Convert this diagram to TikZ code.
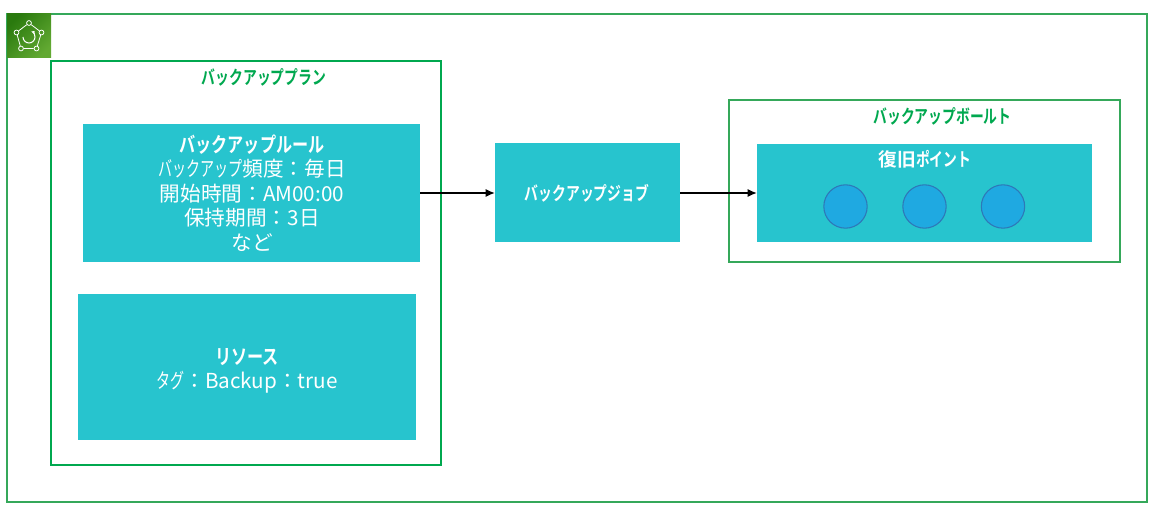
\documentclass[tikz,border=0pt]{standalone}
\usepackage{fontspec}
\usetikzlibrary{arrows.meta}
\setmainfont{Noto Sans CJK JP}[BoldFont={Noto Sans CJK JP Bold}]
\newfontfamily\headfont[FakeStretch=0.74]{Noto Sans CJK JP Bold}
\newfontfamily\rulefont[FakeStretch=0.78]{Noto Sans CJK JP Bold}
\newfontfamily\kanafont[FakeStretch=0.68]{Noto Sans CJK JP}
\definecolor{framegreen}{HTML}{00A84F}
\definecolor{outergreen}{HTML}{35A85A}
\definecolor{boxteal}{HTML}{27C4CE}
\definecolor{dotblue}{HTML}{1FA9E1}
\definecolor{dotedge}{HTML}{2E78B8}
\definecolor{icondark}{HTML}{2A7A0E}
\definecolor{iconlight}{HTML}{62A932}
\tikzset{
  frame/.style={draw=#1, line width=1.5pt, inner sep=0pt, outer sep=0pt},
  tealbox/.style={fill=boxteal, inner sep=0pt, outer sep=0pt},
  bodytext/.style={text=white, align=center, inner sep=0pt, font=\fontsize{15.5}{18.3}\selectfont},
  greentitle/.style={text=framegreen, font=\headfont\fontsize{14}{16}\selectfont},
  whitetitle/.style={text=white, font=\headfont\fontsize{14}{16}\selectfont},
  dot/.style={circle, fill=dotblue, draw=dotedge, line width=0.8pt, minimum size=32.5pt, inner sep=0pt},
  flow/.style={-{Latex[length=7pt, width=6pt]}, black, line width=1.2pt},
  iconpt/.style={circle, draw=white, line width=0.6pt, minimum size=3.6pt, inner sep=0pt},
}
\begin{document}
\begin{tikzpicture}[x=0.75pt, y=-0.75pt]
  \useasboundingbox (0,0) rectangle (1157,506);
  % Frames
  \node[frame=outergreen, minimum width=1140*.75pt, minimum height=488*.75pt] (account) at (577,258) {};
  \node[frame=framegreen, minimum width=390*.75pt, minimum height=404*.75pt] (plan) at (246,263) {};
  \node[frame=outergreen, minimum width=391*.75pt, minimum height=162*.75pt] (vault) at (924.5,181) {};
  % Icon
  \node[left color=icondark, right color=iconlight, shading angle=45, inner sep=0pt, outer sep=0pt, minimum size=44*.75pt] (icon) at (29,36) {};
  \foreach \name/\x/\y in {ia/29/23, ib/41.5/32.5, ic/36.5/48.5, id/21/48.5, ie/16.5/32.5}
    \node[iconpt] (\name) at (\x,\y) {};
  \draw[white, line width=0.6pt] (ia) -- (ib) -- (ic) -- (id) -- (ie) -- (ia);
  \draw[white, line width=0.8pt, -{Latex[length=2.5pt, width=2.5pt]}] (23,37) arc[start angle=180, end angle=-70, radius=6];
  % Boxes
  \node[tealbox, minimum width=337*.75pt, minimum height=138*.75pt] (rule) at (251.5,193) {};
  \node[bodytext] (ruletext) at (252,193) {{\rulefont\fontsize{15.5}{18.3}\selectfont バックアップルール}\\{\kanafont バックアップ}頻度：毎日\\開始時間：AM00:00\\保持期間：3日\\など};
  \node[tealbox, minimum width=338*.75pt, minimum height=146*.75pt] (resource) at (247,367) {};
  \node[bodytext] (resourcetext) at (247,371) {{\rulefont\fontsize{15.5}{18.3}\selectfont リソース}\\{\kanafont タグ}：Backup：true};
  \node[tealbox, minimum width=185*.75pt, minimum height=99*.75pt] (job) at (587.5,193) {};
  \node[whitetitle] (jobtitle) at (587,193.5) {バックアップジョブ};
  \node[tealbox, minimum width=335*.75pt, minimum height=98*.75pt] (points) at (924.5,193) {};
  % Titles
  \node[greentitle] (plantitle) at (264,77) {バックアッププラン};
  \node[greentitle] (vaulttitle) at (942.5,116.5) {バックアップボールト};
  \node[whitetitle] (pointstitle) at (925,159.5) {{\rulefont\fontsize{14}{16}\selectfont\addfontfeature{FakeStretch=1}復旧}ポイント};
  % Recovery points
  \foreach \name/\x in {pointa/845.5, pointb/924.5, pointc/1003}
    \node[dot] (\name) at (\x,206.5) {};
  % Arrows
  \draw[flow] (rule) -- (job);
  \draw[flow] (job) -- (points);
\end{tikzpicture}
\end{document}
